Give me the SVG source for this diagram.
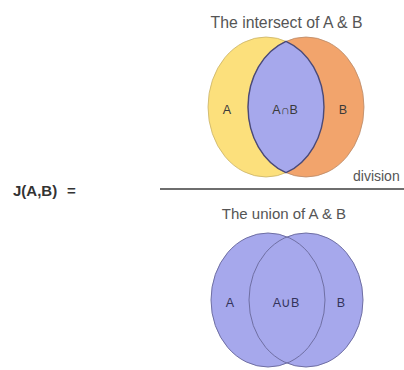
<svg xmlns="http://www.w3.org/2000/svg" width="404" height="370" viewBox="0 0 404 370">
<style>
.t{font-family:"Liberation Sans",Arial,sans-serif;fill:#555}
.lbl{font-family:"Liberation Sans",Arial,sans-serif;font-size:12.5px;text-anchor:middle;fill:#3a3a3a}
.lbl2{font-family:"Liberation Sans",Arial,sans-serif;font-size:12.5px;text-anchor:middle;fill:#33335a}
</style>
<rect width="404" height="370" fill="#fff"/>
<g id="formula">
<text class="t" x="13" y="196" font-size="15" font-weight="bold" style="fill:#333">J(A,B)<tspan x="67">=</tspan></text>
</g>
<g id="intersect">
<text class="t" x="286.5" y="28" font-size="15.8" text-anchor="middle">The intersect of A &amp; B</text>
<ellipse cx="266" cy="107" rx="58" ry="70" fill="#FCE07C" stroke="#c9b36a" stroke-width="0.8"/>
<ellipse cx="306" cy="107" rx="58" ry="70" fill="#F2A46C" stroke="#b98a6a" stroke-width="0.8"/>
<path d="M286,41.3 A58,70 0 0 1 286,172.7 A58,70 0 0 1 286,41.3 Z" fill="#A6A8EC" stroke="#4a4a78" stroke-width="1.4"/>
<text class="lbl" x="227" y="114">A</text>
<text class="lbl" x="285" y="114">A∩B</text>
<text class="lbl" x="343" y="114">B</text>
</g>
<g id="connectors">
<line x1="160" y1="189" x2="404" y2="189" stroke="#6e6e6e" stroke-width="2"/>
<text class="t" x="353" y="181" font-size="14">division</text>
</g>
<g id="union">
<text class="t" x="284" y="219" font-size="15" text-anchor="middle">The union of A &amp; B</text>
<ellipse cx="268" cy="300" rx="57" ry="67" fill="#A6A8EC"/>
<ellipse cx="306" cy="300" rx="57" ry="67" fill="#A6A8EC"/>
<ellipse cx="268" cy="300" rx="57" ry="67" fill="none" stroke="#6f6fa3" stroke-width="1"/>
<ellipse cx="306" cy="300" rx="57" ry="67" fill="none" stroke="#6f6fa3" stroke-width="1"/>
<text class="lbl2" x="230" y="307">A</text>
<text class="lbl2" x="286" y="307">A∪B</text>
<text class="lbl2" x="341" y="307">B</text>
</g>
</svg>
